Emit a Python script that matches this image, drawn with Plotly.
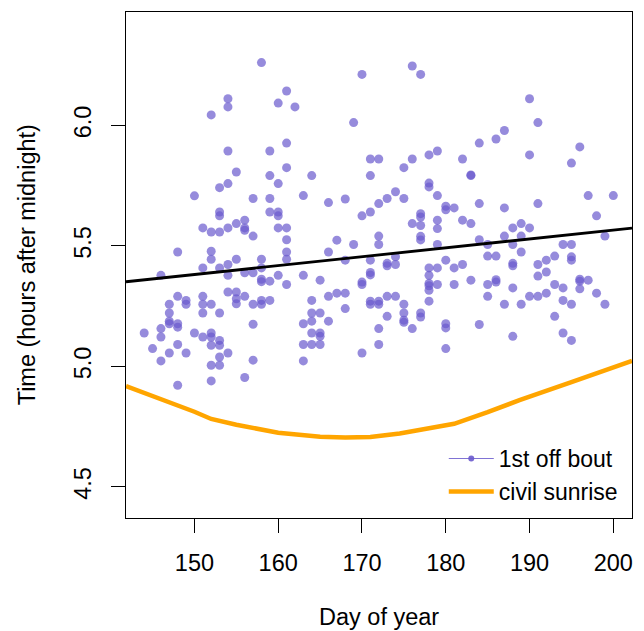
import plotly.graph_objects as go

# ---- data ----
bout_day = [
    144,
    145,
    146, 146, 146, 146,
    147, 147, 147, 147, 147,
    148, 148, 148, 148, 148, 148,
    149, 149, 149,
    150, 150,
    151, 151, 151, 151, 151, 151,
    152, 152, 152, 152, 152, 152, 152, 152, 152, 152,
    153, 153, 153, 153, 153, 153, 153, 153, 153, 153,
    154, 154, 154, 154, 154, 154, 154, 154, 154,
    155, 155, 155, 155, 155, 155,
    156, 156, 156, 156, 156, 156,
    157, 157, 157, 157, 157, 157,
    158, 158, 158, 158, 158, 158, 158,
    159, 159, 159, 159, 159, 159,
    160, 160, 160, 160, 160, 160,
    161, 161, 161, 161, 161, 161, 161, 161,
    162,
    163, 163, 163, 163, 163,
    164, 164, 164, 164, 164, 164,
    165, 165, 165, 165, 165,
    166, 166, 166, 166,
    167, 167,
    168, 168, 168, 168,
    169, 169,
    170, 170, 170, 170, 170,
    171, 171, 171, 171, 171, 171, 171, 171,
    172, 172, 172, 172, 172, 172, 172, 172,
    173, 173, 173, 173, 173,
    174, 174, 174, 174,
    175, 175, 175, 175, 175, 175,
    176, 176, 176, 176,
    177, 177, 177, 177, 177, 177, 177, 177,
    178, 178, 178, 178, 178, 178, 178, 178, 178,
    179, 179, 179, 179, 179, 179, 179,
    180, 180, 180, 180, 180, 180,
    181, 181, 181,
    182, 182, 182,
    183, 183, 183, 183,
    184, 184, 184, 184,
    185, 185, 185, 185,
    186, 186, 186, 186,
    187, 187, 187, 187,
    188, 188, 188, 188, 188, 188,
    189, 189, 189, 189,
    190, 190, 190, 190,
    191, 191, 191, 191, 191,
    192, 192, 192,
    193, 193, 193,
    194, 194, 194, 194,
    195, 195, 195, 195, 195, 195,
    196, 196, 196, 196,
    197, 197,
    198, 198,
    199, 199,
    200,
]

bout_hours = [
    5.139,
    5.074,
    5.378, 5.157, 5.122, 5.023,
    5.258, 5.222, 5.188, 5.177, 5.056,
    5.475, 5.291, 5.177, 5.163, 5.091, 4.922,
    5.274, 5.258, 5.056,
    5.708, 5.139,
    5.575, 5.409, 5.291, 5.258, 5.222, 5.122,
    6.044, 5.558, 5.478, 5.445, 5.258, 5.139, 5.122, 5.088, 5.005, 4.940,
    5.742, 5.641, 5.625, 5.558, 5.409, 5.222, 5.108, 5.088, 5.039, 5.005,
    6.111, 6.077, 5.894, 5.759, 5.575, 5.423, 5.378, 5.309, 5.056,
    5.807, 5.593, 5.445, 5.309, 5.281, 5.260,
    5.607, 5.575, 5.565, 5.389, 5.291, 4.954,
    5.697, 5.541, 5.389, 5.258, 5.175, 5.026,
    6.261, 5.445, 5.409, 5.362, 5.352, 5.274, 5.258,
    5.894, 5.792, 5.697, 5.641, 5.354, 5.274,
    6.093, 5.759, 5.641, 5.625, 5.575, 5.378,
    6.143, 5.927, 5.825, 5.575, 5.526, 5.475, 5.445, 5.340,
    6.077,
    5.709, 5.378, 5.177, 5.091, 5.023,
    5.792, 5.274, 5.222, 5.188, 5.139, 5.091,
    5.358, 5.222, 5.139, 5.125, 5.091,
    5.680, 5.475, 5.291, 5.188,
    5.524, 5.304,
    5.695, 5.441, 5.304, 5.240,
    6.012, 5.506,
    6.212, 5.625, 5.350, 5.340, 5.056,
    5.861, 5.792, 5.641, 5.441, 5.390, 5.380, 5.271, 5.258,
    5.861, 5.676, 5.541, 5.506, 5.271, 5.258, 5.157, 5.091,
    5.697, 5.428, 5.418, 5.291, 5.208,
    5.725, 5.455, 5.423, 5.291,
    5.825, 5.697, 5.258, 5.222, 5.192, 5.183,
    6.247, 5.861, 5.593, 5.157,
    6.212, 5.634, 5.620, 5.585, 5.540, 5.525, 5.222, 5.205,
    5.878, 5.761, 5.745, 5.409, 5.378, 5.345, 5.335, 5.316, 5.271,
    5.894, 5.709, 5.607, 5.572, 5.506, 5.409, 5.340,
    5.665, 5.650, 5.441, 5.177, 5.160, 5.074,
    5.658, 5.409, 5.340,
    5.861, 5.607, 5.423,
    5.795, 5.792, 5.593, 5.358,
    5.927, 5.676, 5.526, 5.174,
    5.506, 5.458, 5.340, 5.291,
    5.944, 5.458, 5.360, 5.350,
    5.979, 5.658, 5.541, 5.258,
    5.575, 5.506, 5.428, 5.418, 5.326, 5.125,
    5.593, 5.541, 5.475, 5.258,
    6.111, 5.878, 5.575, 5.291,
    6.012, 5.676, 5.423, 5.375, 5.291,
    5.441, 5.392, 5.304,
    5.458, 5.340, 5.208,
    5.506, 5.326, 5.274, 5.139,
    5.844, 5.506, 5.455, 5.441, 5.258, 5.108,
    5.911, 5.362, 5.354, 5.322,
    5.709, 5.358,
    5.625, 5.304,
    5.541, 5.258,
    5.709,
]

sunrise_day = [141.83, 146.3, 150, 152, 155, 160, 165, 168, 171, 174.5, 178, 181,
               185, 188.8, 195, 202.23]
sunrise_hours = [4.918, 4.862, 4.812, 4.782, 4.758, 4.725, 4.708, 4.705, 4.707, 4.722,
                 4.742, 4.762, 4.810, 4.860, 4.935, 5.023]

trend_intercept = 4.828
trend_slope = 0.00369

x_range = [141.83, 202.23]
y_range = [4.371, 6.471]
x_ticks = [150, 160, 170, 180, 190, 200]
y_ticks = [4.5, 5.0, 5.5, 6.0]
y_ticklabels = ["4.5", "5.0", "5.5", "6.0"]

FONT = "Liberation Sans, Arial, Helvetica, sans-serif"
PT_COLOR = "rgba(106,90,205,0.7)"
FS = 23.5

fig = go.Figure()

fig.add_trace(go.Scatter(
    x=bout_day, y=bout_hours, mode="markers",
    marker=dict(size=9, color=PT_COLOR, line=dict(width=0)),
    showlegend=False, hoverinfo="x+y",
))

trend_x = x_range
trend_y = [trend_intercept + trend_slope * d for d in trend_x]
fig.add_trace(go.Scatter(
    x=trend_x, y=trend_y, mode="lines",
    line=dict(color="black", width=2.8), showlegend=False,
))

fig.add_trace(go.Scatter(
    x=sunrise_day, y=sunrise_hours, mode="lines",
    line=dict(color="#FFA500", width=4.5), showlegend=False,
))

# legend entries
fig.add_trace(go.Scatter(
    x=[None], y=[None], mode="lines+markers", name="1st off bout",
    line=dict(color="rgba(106,90,205,0.85)", width=1.2),
    marker=dict(size=6, color="rgba(106,90,205,0.9)"),
))
fig.add_trace(go.Scatter(
    x=[None], y=[None], mode="lines", name="civil sunrise",
    line=dict(color="#FFA500", width=4.5),
))

axis_common = dict(
    showline=True, mirror=True, linecolor="black", linewidth=1.3,
    ticks="outside", ticklen=14, tickwidth=1.3, tickcolor="black",
    showgrid=False, zeroline=False,
    tickfont=dict(family=FONT, size=FS, color="black"),
)

# the page body has an 8px margin, so the figure is sized/offset to compensate
fig.update_layout(
    width=636, height=623,
    margin=dict(l=118, r=12, t=4, b=113),
    paper_bgcolor="white", plot_bgcolor="white",
    font=dict(family=FONT, size=FS, color="black"),
    xaxis=dict(range=x_range, tickvals=x_ticks, ticklabelstandoff=10, **axis_common),
    yaxis=dict(range=y_range, tickvals=y_ticks, ticktext=y_ticklabels,
               tickangle=-90, ticklabelstandoff=10, **axis_common),
    legend=dict(x=0.628, y=0.160, xanchor="left", yanchor="top",
                bgcolor="rgba(0,0,0,0)", borderwidth=0,
                font=dict(family=FONT, size=23, color="black"),
                itemwidth=45, tracegroupgap=0),
    annotations=[
        dict(text="Day of year", xref="paper", yref="paper", x=0.5, y=-0.196,
             xanchor="center", yanchor="middle", showarrow=False,
             font=dict(family=FONT, size=FS, color="black")),
        dict(text="Time (hours after midnight)", xref="paper", yref="paper",
             x=-0.195, y=0.5, xanchor="center", yanchor="middle", textangle=-90,
             showarrow=False, font=dict(family=FONT, size=FS, color="black")),
    ],
)

fig.write_html("out.html")
